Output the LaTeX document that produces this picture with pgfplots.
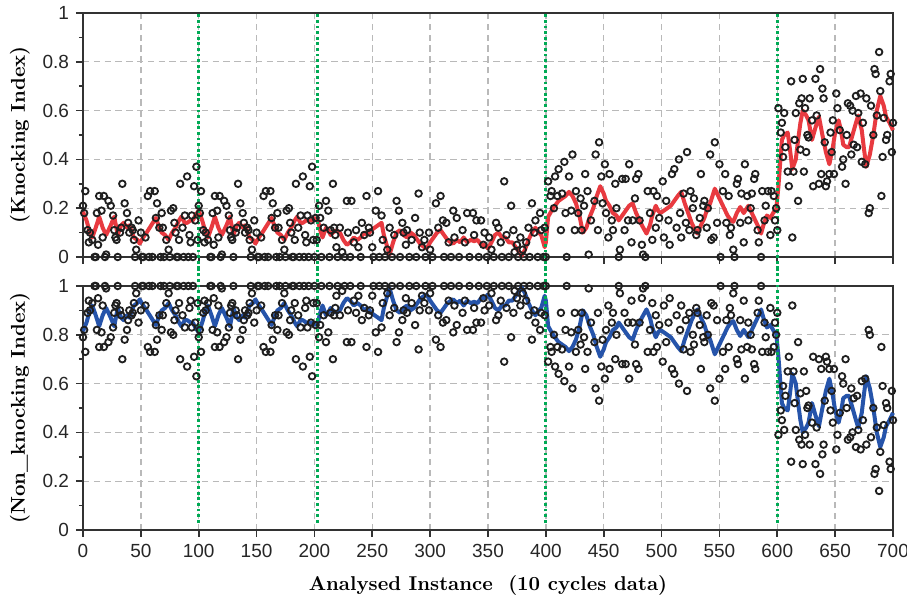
\documentclass[border=0pt]{standalone}
\usepackage{fontspec}
\setsansfont{Liberation Sans}
\usepackage{pgfplots}
\usepackage{pgfplotstable}
\pgfplotsset{compat=1.18}
\definecolor{kred}{RGB}{232,58,64}
\definecolor{kblue}{RGB}{38,84,170}
\definecolor{kgreen}{RGB}{0,170,85}
\definecolor{gridgray}{RGB}{185,185,185}
\definecolor{axgray}{RGB}{50,50,50}

\pgfplotstableread{
x k n
0 0.21 0.79
1 0.18 0.82
2 0.27 0.73
4 0.11 0.89
5 0.06 0.94
6 0.10 0.90
8 0.07 0.93
10 0.00 1.00
11 0.00 1.00
12 0.18 0.82
13 0.05 0.95
14 0.25 0.75
16 0.19 0.81
17 0.08 0.92
18 0.25 0.75
19 0.00 1.00
20 0.01 0.99
22 0.23 0.77
24 0.21 0.79
26 0.17 0.83
27 0.11 0.89
28 0.08 0.92
29 0.07 0.93
30 0.00 1.00
32 0.10 0.90
33 0.12 0.88
34 0.30 0.70
36 0.22 0.78
38 0.18 0.82
39 0.14 0.86
40 0.10 0.90
42 0.12 0.88
43 0.11 0.89
44 0.07 0.93
45 0.00 1.00
46 0.03 0.97
48 0.15 0.85
50 0.10 0.90
51 0.00 1.00
52 0.00 1.00
54 0.08 0.92
56 0.25 0.75
57 0.00 1.00
58 0.27 0.73
60 0.00 1.00
62 0.27 0.73
63 0.16 0.84
64 0.22 0.78
66 0.12 0.88
67 0.00 1.00
68 0.18 0.82
69 0.12 0.88
70 0.00 1.00
72 0.07 0.93
74 0.03 0.97
75 0.00 1.00
76 0.19 0.81
78 0.20 0.80
79 0.14 0.86
80 0.10 0.90
81 0.00 1.00
82 0.00 1.00
83 0.07 0.93
84 0.30 0.70
86 0.12 0.88
87 0.00 1.00
88 0.17 0.83
90 0.33 0.67
91 0.00 1.00
92 0.09 0.91
93 0.06 0.94
94 0.17 0.83
95 0.00 1.00
96 0.29 0.71
97 0.15 0.85
98 0.37 0.63
99 0.07 0.93
100 0.21 0.79
101 0.18 0.82
102 0.27 0.73
104 0.11 0.89
105 0.06 0.94
106 0.10 0.90
108 0.07 0.93
110 0.00 1.00
111 0.00 1.00
112 0.18 0.82
113 0.05 0.95
114 0.25 0.75
116 0.19 0.81
117 0.08 0.92
118 0.25 0.75
119 0.00 1.00
120 0.01 0.99
122 0.23 0.77
124 0.21 0.79
126 0.17 0.83
127 0.11 0.89
128 0.08 0.92
129 0.07 0.93
130 0.00 1.00
132 0.10 0.90
133 0.12 0.88
134 0.30 0.70
136 0.22 0.78
138 0.18 0.82
139 0.14 0.86
140 0.10 0.90
142 0.12 0.88
143 0.11 0.89
144 0.07 0.93
145 0.00 1.00
146 0.03 0.97
148 0.15 0.85
150 0.10 0.90
151 0.00 1.00
152 0.00 1.00
154 0.08 0.92
156 0.25 0.75
157 0.00 1.00
158 0.27 0.73
160 0.00 1.00
162 0.27 0.73
163 0.16 0.84
164 0.22 0.78
166 0.12 0.88
167 0.00 1.00
168 0.18 0.82
169 0.12 0.88
170 0.00 1.00
172 0.07 0.93
174 0.03 0.97
175 0.00 1.00
176 0.19 0.81
178 0.20 0.80
179 0.14 0.86
180 0.10 0.90
181 0.00 1.00
182 0.00 1.00
183 0.07 0.93
184 0.30 0.70
186 0.12 0.88
187 0.00 1.00
188 0.17 0.83
190 0.33 0.67
191 0.00 1.00
192 0.09 0.91
193 0.06 0.94
194 0.17 0.83
195 0.00 1.00
196 0.29 0.71
197 0.15 0.85
198 0.37 0.63
199 0.07 0.93
200 0.00 1.00
201 0.16 0.84
202 0.07 0.93
204 0.21 0.79
205 0.16 0.84
206 0.00 1.00
208 0.12 0.88
210 0.23 0.77
212 0.19 0.81
213 0.00 1.00
214 0.11 0.89
216 0.30 0.70
217 0.12 0.88
218 0.09 0.91
219 0.04 0.96
220 0.00 1.00
222 0.12 0.88
224 0.02 0.98
226 0.00 1.00
228 0.23 0.77
229 0.10 0.90
231 0.00 1.00
232 0.23 0.77
234 0.06 0.94
236 0.11 0.89
238 0.04 0.96
240 0.00 1.00
241 0.14 0.86
243 0.09 0.91
245 0.25 0.75
247 0.12 0.88
248 0.10 0.90
250 0.04 0.96
251 0.00 1.00
253 0.19 0.81
255 0.27 0.73
256 0.00 1.00
258 0.17 0.83
259 0.07 0.93
261 0.00 1.00
263 0.03 0.97
265 0.12 0.88
267 0.00 1.00
269 0.09 0.91
271 0.23 0.77
273 0.19 0.81
274 0.00 1.00
276 0.14 0.86
277 0.10 0.90
279 0.05 0.95
280 0.11 0.89
282 0.00 1.00
284 0.07 0.93
287 0.16 0.84
288 0.00 1.00
290 0.26 0.74
291 0.10 0.90
293 0.04 0.96
295 0.07 0.93
296 0.00 1.00
299 0.10 0.90
300 0.03 0.97
302 0.00 1.00
305 0.22 0.78
307 0.12 0.88
309 0.25 0.75
311 0.15 0.85
312 0.00 1.00
314 0.14 0.86
316 0.06 0.94
318 0.00 1.00
320 0.19 0.81
321 0.08 0.92
323 0.16 0.84
325 0.00 1.00
328 0.11 0.89
330 0.06 0.94
332 0.18 0.82
334 0.00 1.00
337 0.18 0.82
338 0.09 0.91
340 0.15 0.85
342 0.00 1.00
344 0.15 0.85
346 0.05 0.95
347 0.10 0.90
349 0.00 1.00
351 0.08 0.92
353 0.03 0.97
355 0.00 1.00
357 0.14 0.86
359 0.12 0.88
361 0.06 0.94
362 0.00 1.00
364 0.31 0.69
366 0.09 0.91
368 0.00 1.00
370 0.21 0.79
372 0.11 0.89
373 0.02 0.98
375 0.05 0.95
376 0.00 1.00
378 0.08 0.92
380 0.03 0.97
381 0.00 1.00
383 0.06 0.94
385 0.12 0.88
386 0.00 1.00
388 0.22 0.78
390 0.10 0.90
391 0.15 0.85
393 0.00 1.00
395 0.18 0.82
396 0.11 0.89
398 0.00 1.00
399 0.12 0.88
400 0.00 1.00
402 0.31 0.69
404 0.25 0.75
405 0.27 0.73
407 0.20 0.80
408 0.33 0.67
410 0.25 0.75
411 0.36 0.64
413 0.11 0.89
414 0.26 0.74
416 0.39 0.61
417 0.18 0.82
418 0.00 1.00
420 0.33 0.67
422 0.19 0.81
423 0.42 0.58
425 0.11 0.89
426 0.27 0.73
428 0.18 0.82
430 0.24 0.76
431 0.11 0.89
433 0.21 0.79
434 0.34 0.66
436 0.27 0.73
437 0.01 0.99
439 0.15 0.85
442 0.23 0.77
443 0.42 0.58
445 0.11 0.89
446 0.47 0.53
448 0.33 0.67
449 0.22 0.78
451 0.38 0.62
452 0.18 0.82
454 0.08 0.92
455 0.34 0.66
457 0.15 0.85
458 0.11 0.89
460 0.30 0.70
461 0.20 0.80
463 0.00 1.00
464 0.03 0.97
466 0.32 0.68
468 0.11 0.89
469 0.32 0.68
471 0.15 0.85
472 0.38 0.62
474 0.06 0.94
475 0.15 0.85
477 0.24 0.76
478 0.32 0.68
480 0.34 0.66
481 0.15 0.85
483 0.05 0.95
484 0.01 0.99
486 0.00 1.00
488 0.27 0.73
490 0.18 0.82
492 0.07 0.93
493 0.27 0.73
495 0.12 0.88
496 0.25 0.75
498 0.16 0.84
501 0.31 0.69
502 0.08 0.92
504 0.23 0.77
506 0.15 0.85
507 0.05 0.95
509 0.34 0.66
511 0.36 0.64
513 0.12 0.88
515 0.40 0.60
516 0.18 0.82
517 0.08 0.92
519 0.26 0.74
521 0.14 0.86
522 0.43 0.57
524 0.11 0.89
525 0.27 0.73
527 0.20 0.80
528 0.24 0.76
530 0.09 0.91
531 0.11 0.89
533 0.16 0.84
534 0.34 0.66
536 0.21 0.79
537 0.23 0.77
539 0.12 0.88
540 0.20 0.80
542 0.42 0.58
543 0.07 0.93
545 0.08 0.92
546 0.47 0.53
548 0.14 0.86
550 0.38 0.62
551 0.00 1.00
553 0.27 0.73
555 0.34 0.66
556 0.14 0.86
558 0.25 0.75
559 0.09 0.91
560 0.12 0.88
562 0.03 0.97
563 0.00 1.00
565 0.30 0.70
566 0.32 0.68
568 0.14 0.86
569 0.26 0.74
571 0.06 0.94
572 0.38 0.62
574 0.25 0.75
575 0.15 0.85
577 0.20 0.80
578 0.26 0.74
580 0.32 0.68
581 0.34 0.66
583 0.11 0.89
584 0.06 0.94
586 0.00 1.00
587 0.27 0.73
589 0.15 0.85
590 0.21 0.79
592 0.27 0.73
594 0.09 0.91
595 0.27 0.73
597 0.25 0.75
598 0.15 0.85
599 0.20 0.80
600 0.11 0.89
601 0.61 0.39
603 0.51 0.49
604 0.55 0.45
605 0.41 0.59
606 0.59 0.41
607 0.45 0.55
609 0.35 0.65
610 0.29 0.71
612 0.72 0.28
613 0.08 0.92
614 0.35 0.65
615 0.48 0.52
616 0.59 0.41
618 0.23 0.77
619 0.63 0.37
620 0.44 0.56
621 0.65 0.35
622 0.73 0.27
623 0.35 0.65
624 0.61 0.39
625 0.43 0.57
626 0.50 0.50
627 0.49 0.51
628 0.65 0.35
630 0.56 0.44
631 0.29 0.71
633 0.73 0.27
634 0.58 0.42
636 0.30 0.70
637 0.77 0.23
638 0.34 0.66
639 0.69 0.31
640 0.65 0.35
641 0.47 0.53
642 0.29 0.71
643 0.31 0.69
645 0.34 0.66
646 0.51 0.49
647 0.43 0.57
648 0.56 0.44
649 0.34 0.66
651 0.67 0.33
652 0.61 0.39
654 0.52 0.48
656 0.37 0.63
657 0.40 0.60
659 0.30 0.70
660 0.50 0.50
661 0.63 0.37
663 0.62 0.38
664 0.42 0.58
665 0.60 0.40
666 0.46 0.54
668 0.66 0.34
669 0.45 0.55
670 0.59 0.41
672 0.67 0.33
673 0.39 0.61
674 0.55 0.45
676 0.38 0.62
677 0.65 0.35
679 0.18 0.82
680 0.20 0.80
681 0.62 0.38
683 0.50 0.50
684 0.77 0.23
685 0.75 0.25
686 0.58 0.42
688 0.84 0.16
689 0.68 0.32
690 0.25 0.75
691 0.41 0.59
692 0.57 0.43
694 0.48 0.52
695 0.50 0.50
697 0.72 0.28
698 0.75 0.25
699 0.43 0.57
700 0.55 0.45
}\scat

\pgfplotstableread{
x ks ns
0 0.185 0.815
3 0.15 0.85
6 0.10 0.90
8 0.08 0.92
11 0.12 0.88
14 0.165 0.835
17 0.12 0.88
20 0.09 0.91
24 0.13 0.87
27 0.165 0.835
30 0.09 0.91
33 0.13 0.87
35 0.14 0.86
38 0.12 0.88
40 0.13 0.87
44 0.08 0.92
47 0.07 0.93
49 0.055 0.945
52 0.08 0.92
55 0.10 0.90
59 0.13 0.87
63 0.16 0.84
66 0.12 0.88
68 0.10 0.90
71 0.09 0.91
74 0.07 0.93
77 0.10 0.90
80 0.12 0.88
83 0.15 0.85
85 0.165 0.835
88 0.14 0.86
90 0.14 0.86
93 0.15 0.85
95 0.15 0.85
97 0.17 0.83
100 0.19 0.81
103 0.15 0.85
106 0.10 0.90
108 0.08 0.92
111 0.12 0.88
114 0.165 0.835
117 0.12 0.88
120 0.09 0.91
124 0.13 0.87
127 0.165 0.835
130 0.09 0.91
133 0.13 0.87
135 0.14 0.86
138 0.12 0.88
140 0.13 0.87
144 0.08 0.92
147 0.07 0.93
149 0.055 0.945
152 0.08 0.92
155 0.10 0.90
159 0.13 0.87
163 0.16 0.84
166 0.12 0.88
168 0.10 0.90
171 0.09 0.91
174 0.07 0.93
177 0.10 0.90
180 0.12 0.88
183 0.15 0.85
185 0.165 0.835
188 0.14 0.86
190 0.14 0.86
193 0.15 0.85
195 0.15 0.85
198 0.15 0.85
200 0.16 0.84
203 0.15 0.85
205 0.11 0.89
207 0.08 0.92
210 0.12 0.88
212 0.11 0.89
214 0.09 0.91
216 0.10 0.90
219 0.11 0.89
222 0.10 0.90
225 0.07 0.93
228 0.05 0.95
231 0.06 0.94
234 0.08 0.92
237 0.07 0.93
240 0.08 0.92
243 0.10 0.90
246 0.09 0.91
249 0.11 0.89
252 0.12 0.88
255 0.13 0.87
258 0.14 0.86
260 0.09 0.91
263 0.04 0.96
265 0.01 0.99
268 0.06 0.94
271 0.10 0.90
274 0.11 0.89
277 0.09 0.91
280 0.08 0.92
283 0.10 0.90
286 0.09 0.91
289 0.07 0.93
292 0.05 0.95
295 0.04 0.96
297 0.035 0.965
300 0.06 0.94
303 0.08 0.92
306 0.10 0.90
309 0.11 0.89
312 0.09 0.91
315 0.07 0.93
318 0.06 0.94
320 0.055 0.945
323 0.07 0.93
326 0.06 0.94
329 0.08 0.92
332 0.06 0.94
335 0.07 0.93
338 0.065 0.935
341 0.07 0.93
344 0.05 0.95
347 0.05 0.95
350 0.035 0.965
353 0.06 0.94
356 0.09 0.91
359 0.10 0.90
362 0.08 0.92
365 0.08 0.92
368 0.06 0.94
371 0.06 0.94
374 0.04 0.96
377 0.02 0.98
379 0.005 0.995
382 0.03 0.97
385 0.07 0.93
388 0.10 0.90
391 0.12 0.88
394 0.10 0.90
396 0.09 0.91
399 0.04 0.96
400 0.06 0.94
402 0.165 0.835
405 0.19 0.81
407 0.205 0.795
411 0.23 0.77
414 0.24 0.76
417 0.25 0.75
420 0.267 0.733
423 0.25 0.75
426 0.22 0.78
429 0.17 0.83
432 0.10 0.90
435 0.12 0.88
438 0.165 0.835
441 0.20 0.80
444 0.25 0.75
447 0.29 0.71
450 0.26 0.74
452 0.23 0.77
455 0.21 0.79
458 0.18 0.82
461 0.17 0.83
463 0.15 0.85
466 0.17 0.83
469 0.19 0.81
472 0.21 0.79
475 0.22 0.78
478 0.18 0.82
480 0.16 0.84
483 0.13 0.87
487 0.096 0.904
490 0.13 0.87
492 0.17 0.83
495 0.21 0.79
497 0.19 0.81
499 0.18 0.82
502 0.19 0.81
505 0.20 0.80
508 0.21 0.79
511 0.23 0.77
514 0.25 0.75
517 0.267 0.733
520 0.22 0.78
523 0.18 0.82
526 0.14 0.86
529 0.11 0.89
531 0.096 0.904
534 0.13 0.87
537 0.16 0.84
539 0.19 0.81
542 0.22 0.78
544 0.25 0.75
546 0.28 0.72
549 0.25 0.75
552 0.22 0.78
554 0.20 0.80
557 0.17 0.83
560 0.15 0.85
562 0.144 0.856
565 0.18 0.82
568 0.205 0.795
571 0.18 0.82
575 0.21 0.79
578 0.18 0.82
581 0.15 0.85
584 0.12 0.88
586 0.096 0.904
588 0.13 0.87
591 0.17 0.83
594 0.16 0.84
597 0.185 0.815
599 0.19 0.81
601 0.29 0.71
604 0.48 0.52
606 0.50 0.50
609 0.51 0.49
611 0.44 0.56
613 0.36 0.64
616 0.40 0.60
618 0.48 0.52
620 0.55 0.45
622 0.60 0.40
625 0.58 0.42
627 0.56 0.44
630 0.48 0.52
633 0.53 0.47
636 0.575 0.425
639 0.50 0.50
642 0.43 0.57
645 0.38 0.62
648 0.45 0.55
650 0.51 0.49
653 0.56 0.44
655 0.52 0.48
657 0.46 0.54
660 0.45 0.55
662 0.45 0.55
665 0.50 0.50
668 0.55 0.45
670 0.58 0.42
673 0.52 0.48
675 0.44 0.56
677 0.37 0.63
680 0.42 0.58
683 0.50 0.50
686 0.60 0.40
689 0.66 0.34
692 0.62 0.38
694 0.575 0.425
697 0.55 0.45
700 0.52 0.48
}\lin

\begin{document}
\begin{tikzpicture}
\useasboundingbox (-41.5pt,-173pt) rectangle (412pt,128.5pt);
\pgfplotsset{
 panel/.style={
  scale only axis, width=405pt, height=122pt,
  xmin=0, xmax=700, ymin=0, ymax=1,
  xtick={0,50,...,700}, ytick={0,0.2,0.4,0.6,0.8,1}, minor y tick num=1,
  tick align=outside, xtick pos=bottom, ytick pos=left,
  major tick length=3.5pt, minor tick length=2pt,
  grid=major, major grid style={gridgray, dash pattern=on 3.2pt off 2.2pt, line width=0.65pt},
  axis line style={axgray, line width=0.9pt},
  every tick/.style={axgray, line width=0.8pt},
  tick label style={font=\sffamily\fontsize{9.5}{11}\selectfont, text=black!85},
  /pgf/number format/assume math mode=true,
  clip=false,
  ylabel style={at={(axis description cs:-0.078,0.5)}, anchor=center, font=\bfseries\fontsize{10}{12}\selectfont},
 },
 pts/.style={only marks, mark=o, mark size=1.65pt, mark options={black!88, line width=0.9pt}},
 gl/.style={kgreen, line width=1.4pt, dash pattern=on 1.4pt off 1.4pt},
}
\begin{axis}[panel, at={(0pt,0pt)}, anchor=south west, xticklabels={}, ylabel={(Knocking Index)}]
\addplot[pts] table[x=x, y=k]{\scat};
\addplot[kred, line width=2pt, line join=round] table[x=x, y=ks]{\lin};
\addplot[gl] coordinates {(100,-0.05) (100,1)};
\addplot[gl] coordinates {(203,-0.05) (203,1)};
\addplot[gl] coordinates {(400,-0.05) (400,1)};
\addplot[gl] coordinates {(600,-0.05) (600,1)};
\end{axis}
\begin{axis}[panel, at={(0pt,-136.5pt)}, anchor=south west, ylabel={(Non\_knocking Index)},
  xlabel={Analysed Instance\ \ (10 cycles data)},
  xlabel style={at={(axis description cs:0.5,0)}, yshift=-27.5pt, anchor=center, font=\bfseries\fontsize{10}{12}\selectfont}]
\addplot[pts] table[x=x, y=n]{\scat};
\addplot[kblue, line width=2pt, line join=round] table[x=x, y=ns]{\lin};
\addplot[gl] coordinates {(100,0.03) (100,1.07)};
\addplot[gl] coordinates {(203,0.03) (203,1.07)};
\addplot[gl] coordinates {(400,0.03) (400,1.07)};
\addplot[gl] coordinates {(600,0.03) (600,1.07)};
\end{axis}
\end{tikzpicture}
\end{document}
